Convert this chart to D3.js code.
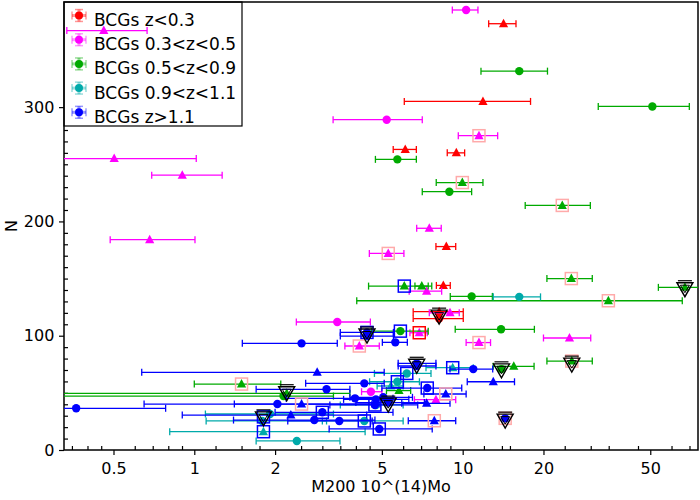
<!DOCTYPE html>
<html>
<head>
<meta charset="utf-8">
<script src="https://cdn.jsdelivr.net/npm/d3@7"></script>
<style>
  body { margin: 0; background: #fff; }
  text { font-family: "DejaVu Sans", sans-serif; }
</style>
</head>
<body>
<div id="chart"></div>
<script>
// rows: [M200, M200 low, M200 high, N, shape]   shape c = circle, t = triangle
var redPts = [
  [14.2, 12.5, 15.8, 373, "t"], [11.9, 6.06, 17.9, 305, "t"], [6.11, 5.51, 6.72, 263, "t"],
  [9.47, 8.76, 10.17, 260, "t"], [8.69, 7.95, 9.42, 178, "t"], [8.47, 7.98, 8.99, 144, "t"],
  [8.17, 6.54, 10.05, 121, "t"], [8.17, 6.54, 10.05, 115, "c"]
];
var magentaPts = [
  [10.3, 9.15, 11.4, 385, "c"], [0.46, 0.335, 0.667, 367, "t"], [5.21, 3.29, 7.07, 289, "c"],
  [11.5, 9.63, 13.5, 275, "t"], [0.503, 0.2, 1.017, 255, "t"], [0.902, 0.694, 1.27, 240.5, "t"],
  [0.682, 0.486, 1.006, 184, "t"], [7.51, 6.74, 8.32, 194, "t"], [5.28, 4.49, 6.04, 172, "t"],
  [7.34, 6.32, 8.35, 139, "t"], [6.89, 6.36, 7.38, 102.6, "t"], [8.97, 7.51, 9.71, 120, "t"],
  [3.41, 2.40, 4.53, 112, "c"], [4.12, 3.64, 4.89, 91, "t"], [11.5, 10.3, 12.7, 94, "t"],
  [25.0, 20.0, 30.0, 98, "t"], [7.95, 6.61, 9.42, 44, "t"], [4.55, 4.2, 5.0, 51, "c"]
];
var greenPts = [
  [16.25, 11.7, 20.7, 331.5, "c"], [50.9, 32.0, 69.9, 300.6, "c"], [5.71, 4.73, 6.72, 254.3, "c"],
  [9.97, 7.97, 11.9, 234, "t"], [8.92, 7.07, 10.8, 226, "c"], [23.5, 17.1, 29.9, 214, "t"],
  [25.4, 20.6, 30.4, 150, "t"], [6.06, 4.46, 7.67, 143.4, "t"], [7.04, 6.64, 7.44, 143.4, "t"],
  [10.8, 8.99, 12.9, 134.4, "c"], [34.9, 4.03, 65.8, 130.6, "t"], [13.9, 9.38, 18.5, 105.6, "c"],
  [5.86, 4.57, 7.44, 104, "c"], [25.5, 20.6, 30.4, 77.8, "t"], [13.95, 13.95, 13.95, 70.8, "c"],
  [15.5, 13.0, 18.45, 73.2, "t"], [1.50, 1.0, 2.10, 57.7, "t"], [2.21, 0.2, 3.8, 49.6, "t"],
  [2.15, 0.2, 3.3, 47.2, "c"], [5.79, 5.2, 6.4, 52, "t"], [67.3, 53.6, 85, 142.3, "t"]
];
var cyanPts = [
  [16.25, 13.0, 19.5, 134, "c"], [9.18, 7.30, 10.95, 72, "t"], [6.19, 4.69, 7.62, 67, "c"],
  [5.71, 4.5, 6.9, 59.7, "c"], [2.41, 1.70, 3.49, 7.9, "c"], [1.81, 0.81, 4.33, 16, "t"],
  [1.915, 1.10, 3.30, 31.5, "c"], [1.79, 1.107, 3.11, 25.4, "c"], [4.30, 3.0, 6.0, 25.4, "c"],
  [4.75, 3.5, 6.0, 39.4, "c"], [5.4, 4.8, 6.0, 56, "t"]
];
var bluePts = [
  [0.363, 0.2, 0.782, 36.5, "c"], [2.87, 0.637, 5.10, 68, "t"], [2.51, 1.51, 3.41, 93.3, "c"],
  [4.40, 3.50, 5.52, 102.9, "c"], [4.40, 3.50, 5.52, 99.7, "c"], [5.61, 5.02, 6.22, 94.2, "c"],
  [13.0, 10.4, 15.6, 59.7, "t"], [14.4, 14.4, 14.4, 27.7, "c"], [7.84, 6.27, 9.42, 25.6, "t"],
  [4.89, 3.18, 7.70, 18.4, "c"], [8.65, 7.17, 10.3, 49, "t"], [7.34, 5.93, 8.97, 40.8, "t"],
  [7.38, 5.0, 9.92, 54.2, "c"], [4.30, 2.60, 5.10, 58.3, "c"], [3.11, 1.70, 3.80, 53.1, "c"],
  [2.04, 0.65, 4.92, 40.2, "c"], [2.51, 1.41, 4.59, 40.2, "t"], [3.00, 2.0, 5.5, 33, "c"],
  [2.29, 0.902, 4.39, 30.6, "t"], [2.80, 1.40, 4.71, 26.2, "c"], [3.47, 2.23, 4.6, 25.4, "c"],
  [3.97, 2.2, 5.5, 45.2, "c"], [6.74, 5.75, 7.95, 75.8, "c"], [6.74, 5.75, 7.95, 73.5, "c"],
  [10.95, 8.97, 12.94, 70.8, "c"], [4.75, 3.6, 6.3, 44.3, "c"], [5.06, 3.8, 6.5, 46.1, "c"],
  [4.71, 3.2, 6.8, 39.4, "c"], [5.28, 4.0, 7.2, 41.5, "c"]
];

// flagged points [M200, N]
var pinkBoxed = [[11.5, 275], [5.28, 172], [4.12, 91], [11.5, 94], [9.97, 234], [23.5, 214],
  [25.4, 150], [34.9, 130.6], [25.5, 77.8], [1.50, 57.7], [14.4, 27.7], [7.84, 25.6],
  [8.65, 49], [2.51, 40.2]];
var blueBoxed = [[6.06, 143.4], [5.86, 104], [9.18, 72], [6.19, 67], [5.71, 59.7], [1.81, 16],
  [1.81, 29], [4.30, 25.4], [4.40, 102.9], [4.89, 18.4], [7.38, 54.2], [3.00, 33], [4.71, 39.4]];
var redBoxed = [[6.89, 102.6]];
var blackTri = [[2.21, 51], [1.81, 29], [8.17, 118], [4.40, 101.5], [6.74, 75], [13.95, 71],
  [25.5, 76], [14.4, 27], [67.3, 142], [5.28, 41]];

var xTicks = [0.5, 1, 2, 5, 10, 20, 50];
var xMinor = [0.35, 0.4, 0.45, 0.6, 0.7, 0.8, 0.9, 1.2, 1.5, 1.75, 2.5, 3, 3.5, 4, 4.5,
  6, 7, 8, 9, 12, 14, 15, 24, 30, 35, 45, 60, 70];
var yTicks = [0, 100, 200, 300];
var legendLabels = ["BCGs z<0.3", "BCGs 0.3<z<0.5", "BCGs 0.5<z<0.9", "BCGs 0.9<z<1.1", "BCGs z>1.1"];
var groupColors = ["#ff0000", "#ff00ff", "#00aa00", "#00aaaa", "#0000ff"];
var groups = [redPts, magentaPts, greenPts, cyanPts, bluePts];

var W = 700, H = 500;
var margin = {left: 64, right: 2, top: 2, bottom: 50};
var width = W - margin.left - margin.right;
var height = H - margin.top - margin.bottom;

var svg = d3.select("#chart").append("svg")
    .attr("width", W).attr("height", H);

var x = d3.scaleLog().domain([0.327, 75.3]).range([0, width]);
var y = d3.scaleLinear().domain([0, 392]).range([height, 0]);

svg.append("defs").append("clipPath").attr("id", "clip")
  .append("rect").attr("width", width).attr("height", height);

var g = svg.append("g")
    .attr("transform", "translate(" + margin.left + "," + margin.top + ")");

// axes: major ticks outward, minor ticks inward
var xAxis = g.append("g").attr("transform", "translate(0," + height + ")")
    .call(d3.axisBottom(x).tickValues(xTicks).tickFormat(d3.format("")).tickSize(5).tickSizeOuter(0));
var xMin = g.append("g").attr("transform", "translate(0," + height + ")")
    .call(d3.axisTop(x).tickValues(xMinor).tickFormat("").tickSize(4).tickSizeOuter(0));
var yAxis = g.append("g")
    .call(d3.axisLeft(y).tickValues(yTicks).tickSize(5).tickSizeOuter(0));
var yMinorVals = d3.range(10, 392, 10).filter(function(v) { return v % 100 != 0; });
var yMin = g.append("g")
    .call(d3.axisRight(y).tickValues(yMinorVals).tickFormat("").tickSize(4).tickSizeOuter(0));
[xAxis, xMin, yAxis, yMin].forEach(function(a) {
  a.select(".domain").remove();
  a.selectAll("line").attr("stroke", "#000").attr("stroke-width", 1.2);
  a.selectAll("text").attr("font-size", 16).attr("fill", "#000")
    .attr("font-family", "DejaVu Sans");
});
xAxis.selectAll("text").attr("dy", "1.0em");
yAxis.selectAll("text").attr("dx", "-0.1em");

// legend (drawn under the data, as in the original)
var leg = g.append("g");
leg.append("rect").attr("x", 0).attr("y", 0).attr("width", 178).attr("height", 124)
  .attr("fill", "#fff").attr("stroke", "#000").attr("stroke-width", 1.2);
legendLabels.forEach(function(lab, i) {
  var ly = 13.5 + i * 24.2;
  var col = groupColors[i];
  var m = leg.append("g").attr("transform", "translate(15," + ly + ")");
  m.append("line").attr("x1", -7).attr("x2", 7).attr("y1", 0).attr("y2", 0)
    .attr("stroke", col).attr("stroke-width", 3).attr("opacity", 0.4);
  m.append("line").attr("x1", 0).attr("x2", 0).attr("y1", -6).attr("y2", 6)
    .attr("stroke", col).attr("stroke-width", 3).attr("opacity", 0.4);
  [-7, 7].forEach(function(e) {
    m.append("line").attr("x1", e).attr("x2", e).attr("y1", -4).attr("y2", 4)
      .attr("stroke", col).attr("stroke-width", 1.5).attr("opacity", 0.4);
    m.append("line").attr("y1", e * 0.85).attr("y2", e * 0.85).attr("x1", -4).attr("x2", 4)
      .attr("stroke", col).attr("stroke-width", 1.5).attr("opacity", 0.4);
  });
  m.append("circle").attr("r", 4).attr("fill", col);
  leg.append("text").attr("x", 30).attr("y", ly + 10.5)
    .attr("font-size", 17).attr("fill", "#000").text(lab);
});

// frame
g.append("rect").attr("width", width).attr("height", height)
  .attr("fill", "none").attr("stroke", "#000").attr("stroke-width", 1.5);

var plot = g.append("g").attr("clip-path", "url(#clip)");

var triUp = "M0,-5L4.6,3.5L-4.6,3.5Z";

function drawGroup(data, col) {
  var s = plot.append("g");
  data.forEach(function(d) {
    var cy = y(d[3]);
    if (d[1] < d[0] || d[2] > d[0]) {
      s.append("line").attr("x1", x(d[1])).attr("x2", x(d[2]))
        .attr("y1", cy).attr("y2", cy).attr("stroke", col).attr("stroke-width", 1.3);
      [d[1], d[2]].forEach(function(e) {
        s.append("line").attr("x1", x(e)).attr("x2", x(e))
          .attr("y1", cy - 3.5).attr("y2", cy + 3.5)
          .attr("stroke", col).attr("stroke-width", 1.3);
      });
    }
    if (d[4] == "c") {
      s.append("circle").attr("cx", x(d[0])).attr("cy", cy).attr("r", 4.2).attr("fill", col);
    } else {
      s.append("path").attr("d", triUp)
        .attr("transform", "translate(" + x(d[0]) + "," + cy + ")").attr("fill", col);
    }
  });
}
groups.forEach(function(data, i) { drawGroup(data, groupColors[i]); });

function drawBoxes(list, col, sw) {
  plot.selectAll(null).data(list).enter().append("rect")
    .attr("x", function(d) { return x(d[0]) - 6; })
    .attr("y", function(d) { return y(d[1]) - 6; })
    .attr("width", 12).attr("height", 12)
    .attr("fill", "none").attr("stroke", col).attr("stroke-width", sw);
}
drawBoxes(pinkBoxed, "#ffaaaa", 1.5);
drawBoxes(blueBoxed, "#0000ff", 1.5);
drawBoxes(redBoxed, "#ff0000", 1.5);

// open down triangles
var tri = plot.selectAll(null).data(blackTri).enter().append("g")
  .attr("transform", function(d) { return "translate(" + x(d[0]) + "," + y(d[1]) + ")"; });
tri.append("path").attr("d", "M-8,-5L8,-5L0,9Z")
  .attr("fill", "none").attr("stroke", "#000").attr("stroke-width", 1.4);
tri.append("path").attr("d", "M-4.5,-2.5L4.5,-2.5L0,5Z")
  .attr("fill", "none").attr("stroke", "#000").attr("stroke-width", 1);
tri.append("line").attr("x1", -7).attr("x2", 7).attr("y1", -7).attr("y2", -7)
  .attr("stroke", "#000").attr("stroke-width", 1.2);

// axis titles
svg.append("text").attr("x", margin.left + width / 2).attr("y", 492)
  .attr("text-anchor", "middle").attr("font-size", 16).text("M200 10^(14)Mo");
svg.append("text").attr("transform", "translate(17," + (margin.top + height / 2) + ") rotate(-90)")
  .attr("text-anchor", "middle").attr("font-size", 16).text("N");
</script>
</body>
</html>
